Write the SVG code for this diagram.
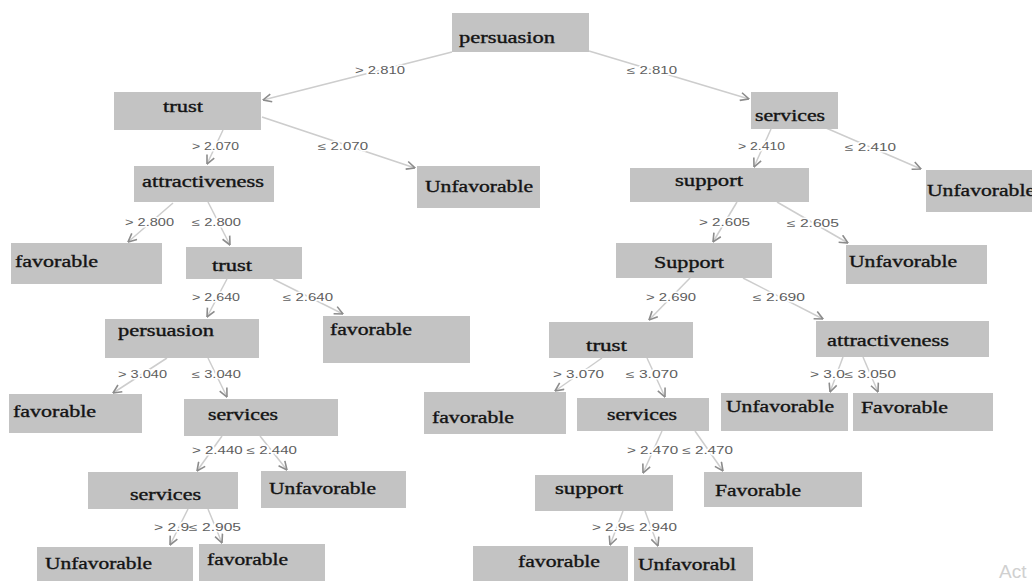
<svg xmlns="http://www.w3.org/2000/svg" width="1032" height="581" viewBox="0 0 1032 581">
<defs>
<style>
.box{fill:#c3c3c3;}
.nt{font-family:"Liberation Serif","Times New Roman",serif;font-size:16px;fill:#141414;stroke:#141414;stroke-width:0.35;}
.edge{stroke:#cdcdcd;stroke-width:1.5;fill:none;marker-end:url(#arr);}
.lbl{font-family:"Liberation Sans",Arial,sans-serif;font-size:10.5px;fill:#5e5e5e;stroke:#ffffff;stroke-width:3;paint-order:stroke;stroke-linejoin:round;}
.wm{font-family:"Liberation Sans",Arial,sans-serif;font-size:19px;fill:#d0d0d0;}
</style>
<marker id="arr" viewBox="0 0 10 10" refX="9.5" refY="5" markerWidth="10" markerHeight="10" markerUnits="userSpaceOnUse" orient="auto">
<path d="M1,1 L9.5,5 L1,9" fill="none" stroke="#8c8c8c" stroke-width="1.6"/>
</marker>
</defs>
<rect width="1032" height="581" fill="#ffffff"/>

<g id="connectors">
<line class="edge" x1="452" y1="52" x2="263" y2="100"/>
<line class="edge" x1="589" y1="51" x2="749" y2="99"/>
<line class="edge" x1="223" y1="130" x2="207" y2="164"/>
<line class="edge" x1="262" y1="117" x2="415" y2="168"/>
<line class="edge" x1="173" y1="203" x2="128" y2="242"/>
<line class="edge" x1="208" y1="202" x2="230" y2="245"/>
<line class="edge" x1="227" y1="279" x2="207" y2="317"/>
<line class="edge" x1="273" y1="279" x2="343" y2="314"/>
<line class="edge" x1="167" y1="358" x2="113" y2="393"/>
<line class="edge" x1="208" y1="358" x2="227" y2="397"/>
<line class="edge" x1="222" y1="436" x2="197" y2="471"/>
<line class="edge" x1="260" y1="436" x2="287" y2="470"/>
<line class="edge" x1="188" y1="509" x2="170" y2="545"/>
<line class="edge" x1="208" y1="509" x2="222" y2="543"/>
<line class="edge" x1="771" y1="129" x2="754" y2="167"/>
<line class="edge" x1="826" y1="128" x2="921" y2="169"/>
<line class="edge" x1="737" y1="202" x2="713" y2="242"/>
<line class="edge" x1="777" y1="202" x2="848" y2="243"/>
<line class="edge" x1="690" y1="278" x2="649" y2="320"/>
<line class="edge" x1="743" y1="278" x2="823" y2="319"/>
<line class="edge" x1="602" y1="358" x2="555" y2="391"/>
<line class="edge" x1="647" y1="358" x2="665" y2="397"/>
<line class="edge" x1="843" y1="357" x2="830" y2="392"/>
<line class="edge" x1="863" y1="357" x2="878" y2="392"/>
<line class="edge" x1="662" y1="431" x2="643" y2="473"/>
<line class="edge" x1="695" y1="431" x2="723" y2="471"/>
<line class="edge" x1="623" y1="511" x2="610" y2="545"/>
<line class="edge" x1="645" y1="511" x2="658" y2="546"/>
</g>

<g id="edge-labels">
<text class="lbl" x="355" y="74" textLength="50" lengthAdjust="spacingAndGlyphs">&gt; 2.810</text>
<text class="lbl" x="627" y="74" textLength="50" lengthAdjust="spacingAndGlyphs">≤ 2.810</text>
<text class="lbl" x="738" y="150" textLength="47" lengthAdjust="spacingAndGlyphs">&gt; 2.410</text>
<text class="lbl" x="845" y="151" textLength="51" lengthAdjust="spacingAndGlyphs">≤ 2.410</text>
<text class="lbl" x="192" y="150" textLength="47" lengthAdjust="spacingAndGlyphs">&gt; 2.070</text>
<text class="lbl" x="318" y="150" textLength="50" lengthAdjust="spacingAndGlyphs">≤ 2.070</text>
<text class="lbl" x="125" y="226" textLength="49" lengthAdjust="spacingAndGlyphs">&gt; 2.800</text>
<text class="lbl" x="192" y="226" textLength="49" lengthAdjust="spacingAndGlyphs">≤ 2.800</text>
<text class="lbl" x="192" y="301" textLength="48" lengthAdjust="spacingAndGlyphs">&gt; 2.640</text>
<text class="lbl" x="283" y="301" textLength="50" lengthAdjust="spacingAndGlyphs">≤ 2.640</text>
<text class="lbl" x="699" y="226" textLength="51" lengthAdjust="spacingAndGlyphs">&gt; 2.605</text>
<text class="lbl" x="787" y="227" textLength="52" lengthAdjust="spacingAndGlyphs">≤ 2.605</text>
<text class="lbl" x="646" y="301" textLength="50" lengthAdjust="spacingAndGlyphs">&gt; 2.690</text>
<text class="lbl" x="753" y="301" textLength="52" lengthAdjust="spacingAndGlyphs">≤ 2.690</text>
<text class="lbl" x="118" y="378" textLength="49" lengthAdjust="spacingAndGlyphs">&gt; 3.040</text>
<text class="lbl" x="192" y="378" textLength="49" lengthAdjust="spacingAndGlyphs">≤ 3.040</text>
<text class="lbl" x="553" y="378" textLength="51" lengthAdjust="spacingAndGlyphs">&gt; 3.070</text>
<text class="lbl" x="626" y="378" textLength="52" lengthAdjust="spacingAndGlyphs">≤ 3.070</text>
<text class="lbl" x="810" y="378" textLength="86" lengthAdjust="spacingAndGlyphs">&gt; 3.0≤ 3.050</text>
<text class="lbl" x="192" y="454" textLength="105" lengthAdjust="spacingAndGlyphs">&gt; 2.440 ≤ 2.440</text>
<text class="lbl" x="627" y="454" textLength="106" lengthAdjust="spacingAndGlyphs">&gt; 2.470 ≤ 2.470</text>
<text class="lbl" x="154" y="531" textLength="87" lengthAdjust="spacingAndGlyphs">&gt; 2.9≤ 2.905</text>
<text class="lbl" x="592" y="531" textLength="85" lengthAdjust="spacingAndGlyphs">&gt; 2.9≤ 2.940</text>
</g>

<g id="n-persuasion-root"><rect class="box" x="452" y="13" width="137" height="39"/><text class="nt" x="459" y="43" textLength="96" lengthAdjust="spacingAndGlyphs">persuasion</text></g>
<g id="n-trust-1"><rect class="box" x="114" y="92" width="147" height="38"/><text class="nt" x="163" y="112" textLength="40" lengthAdjust="spacingAndGlyphs">trust</text></g>
<g id="n-services-1"><rect class="box" x="751" y="92" width="87" height="37"/><text class="nt" x="755" y="121" textLength="70" lengthAdjust="spacingAndGlyphs">services</text></g>
<g id="n-unfav-r1"><rect class="box" x="926" y="170" width="106" height="42"/><text class="nt" x="927" y="196" textLength="108" lengthAdjust="spacingAndGlyphs">Unfavorable</text></g>
<g id="n-unfav-l1"><rect class="box" x="417" y="166" width="123" height="42"/><text class="nt" x="425" y="192" textLength="108" lengthAdjust="spacingAndGlyphs">Unfavorable</text></g>
<g id="n-attract-l"><rect class="box" x="134" y="166" width="140" height="36"/><text class="nt" x="142" y="187" textLength="122" lengthAdjust="spacingAndGlyphs">attractiveness</text></g>
<g id="n-support-1"><rect class="box" x="630" y="168" width="179" height="34"/><text class="nt" x="675" y="186" textLength="68" lengthAdjust="spacingAndGlyphs">support</text></g>
<g id="n-fav-l3"><rect class="box" x="11" y="243" width="151" height="41"/><text class="nt" x="15" y="267" textLength="83" lengthAdjust="spacingAndGlyphs">favorable</text></g>
<g id="n-trust-2"><rect class="box" x="186" y="247" width="116" height="32"/><text class="nt" x="212" y="271" textLength="40" lengthAdjust="spacingAndGlyphs">trust</text></g>
<g id="n-Support-2"><rect class="box" x="616" y="243" width="156" height="35"/><text class="nt" x="654" y="268" textLength="70" lengthAdjust="spacingAndGlyphs">Support</text></g>
<g id="n-unfav-r3"><rect class="box" x="846" y="245" width="141" height="39"/><text class="nt" x="849" y="267" textLength="108" lengthAdjust="spacingAndGlyphs">Unfavorable</text></g>
<g id="n-persuasion-2"><rect class="box" x="105" y="319" width="154" height="39"/><text class="nt" x="118" y="336" textLength="96" lengthAdjust="spacingAndGlyphs">persuasion</text></g>
<g id="n-fav-l4"><rect class="box" x="323" y="316" width="147" height="47"/><text class="nt" x="330" y="335" textLength="82" lengthAdjust="spacingAndGlyphs">favorable</text></g>
<g id="n-trust-3"><rect class="box" x="549" y="322" width="144" height="36"/><text class="nt" x="586" y="351" textLength="41" lengthAdjust="spacingAndGlyphs">trust</text></g>
<g id="n-attract-r"><rect class="box" x="816" y="321" width="173" height="36"/><text class="nt" x="827" y="346" textLength="122" lengthAdjust="spacingAndGlyphs">attractiveness</text></g>
<g id="n-fav-l5"><rect class="box" x="9" y="394" width="133" height="39"/><text class="nt" x="13" y="417" textLength="83" lengthAdjust="spacingAndGlyphs">favorable</text></g>
<g id="n-services-2"><rect class="box" x="184" y="399" width="154" height="37"/><text class="nt" x="208" y="420" textLength="70" lengthAdjust="spacingAndGlyphs">services</text></g>
<g id="n-fav-m5"><rect class="box" x="424" y="392" width="142" height="42"/><text class="nt" x="432" y="423" textLength="82" lengthAdjust="spacingAndGlyphs">favorable</text></g>
<g id="n-services-3"><rect class="box" x="577" y="398" width="132" height="33"/><text class="nt" x="607" y="420" textLength="70" lengthAdjust="spacingAndGlyphs">services</text></g>
<g id="n-unfav-r5"><rect class="box" x="721" y="393" width="127" height="38"/><text class="nt" x="726" y="412" textLength="108" lengthAdjust="spacingAndGlyphs">Unfavorable</text></g>
<g id="n-Fav-r5"><rect class="box" x="853" y="393" width="140" height="38"/><text class="nt" x="861" y="413" textLength="87" lengthAdjust="spacingAndGlyphs">Favorable</text></g>
<g id="n-services-4"><rect class="box" x="88" y="472" width="150" height="37"/><text class="nt" x="130" y="500" textLength="71" lengthAdjust="spacingAndGlyphs">services</text></g>
<g id="n-unfav-l6"><rect class="box" x="261" y="471" width="145" height="37"/><text class="nt" x="269" y="494" textLength="107" lengthAdjust="spacingAndGlyphs">Unfavorable</text></g>
<g id="n-support-3"><rect class="box" x="535" y="475" width="138" height="36"/><text class="nt" x="555" y="494" textLength="68" lengthAdjust="spacingAndGlyphs">support</text></g>
<g id="n-Fav-r6"><rect class="box" x="704" y="472" width="158" height="35"/><text class="nt" x="715" y="496" textLength="86" lengthAdjust="spacingAndGlyphs">Favorable</text></g>
<g id="n-unfav-l7"><rect class="box" x="37" y="547" width="156" height="34"/><text class="nt" x="45" y="569" textLength="107" lengthAdjust="spacingAndGlyphs">Unfavorable</text></g>
<g id="n-fav-l7"><rect class="box" x="199" y="544" width="126" height="37"/><text class="nt" x="207" y="565" textLength="81" lengthAdjust="spacingAndGlyphs">favorable</text></g>
<g id="n-fav-r7"><rect class="box" x="473" y="546" width="155" height="35"/><text class="nt" x="518" y="567" textLength="82" lengthAdjust="spacingAndGlyphs">favorable</text></g>
<g id="n-unfav-r7"><rect class="box" x="634" y="547" width="119" height="34"/><text class="nt" x="638" y="570" textLength="98" lengthAdjust="spacingAndGlyphs">Unfavorabl</text></g>

<text class="wm" x="999" y="578">Act</text>
</svg>
